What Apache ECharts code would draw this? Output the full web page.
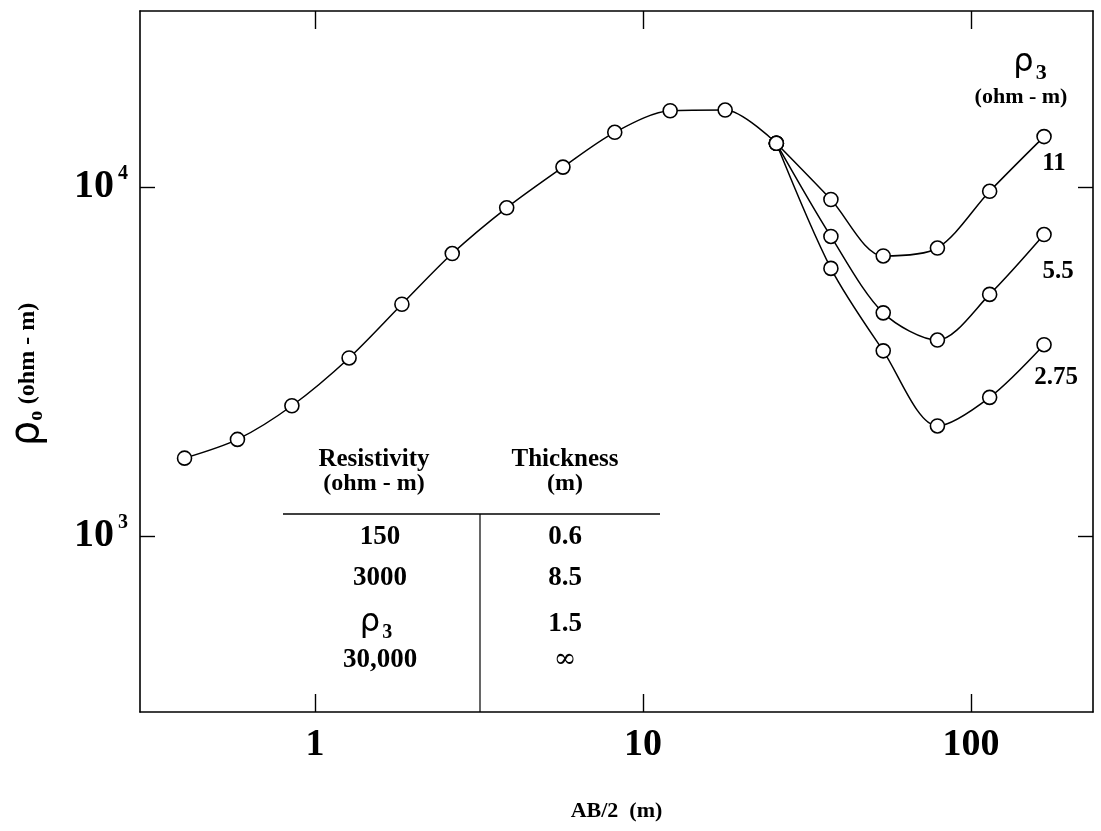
<!DOCTYPE html>
<html>
<head>
<meta charset="utf-8">
<script src="https://cdn.jsdelivr.net/npm/echarts@6/dist/echarts.min.js"></script>
<style>
html,body{margin:0;padding:0;background:#fff;}
#c{width:1101px;height:831px;}
</style>
</head>
<body>
<div id="c"></div>
<script>
// ---- data ----
const abMain   = [0.4, 0.58, 0.85, 1.27, 1.84, 2.62, 3.84, 5.7, 8.2, 12.1, 17.8, 25.5];
const rhoMain  = [1670, 1890, 2360, 3235, 4610, 6440, 8710, 11390, 14330, 16520, 16600, 13330];
const abBranch = [37.4, 54, 79, 114, 167];
const rho11    = [9200, 6340, 6680, 9710, 13930];
const rho55    = [7210, 4355, 3640, 4920, 7300];
const rho275   = [5840, 3390, 2065, 2494, 3530];
const branchNames = ['11', '5.5', '2.75'];
const xTicks = [1, 10, 100];
const yTicks = [1000, 10000];
const tableHead = [['Resistivity', '(ohm - m)'], ['Thickness', '(m)']];
const tableResist = ['150', '3000', 'ρ3', '30,000'];
const tableThick  = ['0.6', '8.5', '1.5', '∞'];

const SERIF = '"Liberation Serif","Times New Roman",serif';
const chart = echarts.init(document.getElementById('c'));

function pairs(xs, ys) { return xs.map((x, i) => [x, ys[i]]); }
const joint = [abMain[abMain.length - 1], rhoMain[rhoMain.length - 1]];

const lineStyle = { color: '#000', width: 1.5 };
const itemStyle = { color: '#fff', borderColor: '#000', borderWidth: 1.6 };

function branch(name, ys, offset) {
  const d = [joint].concat(pairs(abBranch, ys));
  const last = d.length - 1;
  return {
    type: 'line', name: name, smooth: 0.3, symbol: 'circle', symbolSize: 14,
    lineStyle: lineStyle, itemStyle: itemStyle, z: 2,
    data: d.map((p, i) => i === last ? {
      value: p,
      label: { show: true, formatter: name, position: 'bottom', offset: offset,
        fontFamily: SERIF, fontWeight: 'bold', fontSize: 25, color: '#000' }
    } : p)
  };
}

const xCommon = {
  type: 'log', logBase: 10, min: 0.2926, max: 235.5,
  axisLine: { show: true, onZero: false, lineStyle: { color: '#000', width: 1.6 } },
  axisTick: { show: true, inside: true, length: 18, customValues: xTicks, lineStyle: { color: '#000', width: 1.4 } },
  splitLine: { show: false }, minorTick: { show: false }
};
const yCommon = {
  type: 'log', logBase: 10, min: 313, max: 31900,
  axisLine: { show: true, onZero: false, lineStyle: { color: '#000', width: 1.6 } },
  axisTick: { show: true, inside: true, length: 15, customValues: yTicks, lineStyle: { color: '#000', width: 1.4 } },
  splitLine: { show: false }, minorTick: { show: false }
};

// table annotation
const colL = 380, colR = 565;
const rowY = [537, 578, 626, 660];
const tableGraphics = [];
tableHead.forEach((h, ci) => {
  const cx = ci === 0 ? colL - 6 : colR;
  tableGraphics.push({ type: 'text', x: cx, y: 460, style: { text: h[0], fontFamily: SERIF, fontWeight: 'bold', fontSize: 25, fill: '#000', align: 'center', verticalAlign: 'middle' } });
  tableGraphics.push({ type: 'text', x: cx, y: 484, style: { text: h[1], fontFamily: SERIF, fontWeight: 'bold', fontSize: 24, fill: '#000', align: 'center', verticalAlign: 'middle' } });
});
tableResist.forEach((t, i) => {
  if (t === 'ρ3') {
    tableGraphics.push({ type: 'text', x: colL - 4, y: rowY[i], style: { text: '{r|ρ}{s|3}', align: 'center', verticalAlign: 'middle',
      rich: { r: { fontFamily: 'DejaVu Sans', fontSize: 32, fill: '#000', padding: [0, 0, 6, 0] }, s: { fontFamily: SERIF, fontWeight: 'bold', fontSize: 20, fill: '#000', padding: [14, 0, 0, 2] } } } });
  } else {
    tableGraphics.push({ type: 'text', x: colL, y: rowY[i], style: { text: t, fontFamily: SERIF, fontWeight: 'bold', fontSize: 27, fill: '#000', align: 'center', verticalAlign: 'middle' } });
  }
});
tableThick.forEach((t, i) => {
  tableGraphics.push({ type: 'text', x: colR, y: rowY[i] - (i === 2 ? 2 : 0), style: { text: t, fontFamily: t === '∞' ? 'DejaVu Serif' : SERIF, fontWeight: t === '∞' ? 'normal' : 'bold', fontSize: 27, fill: '#000', align: 'center', verticalAlign: 'middle' } });
});
tableGraphics.push({ type: 'line', shape: { x1: 283, y1: 514, x2: 660, y2: 514 }, style: { stroke: '#000', lineWidth: 1.6 } });
tableGraphics.push({ type: 'line', shape: { x1: 480, y1: 514, x2: 480, y2: 712 }, style: { stroke: '#000', lineWidth: 1.2 } });

const option = {
  backgroundColor: '#fff',
  animation: false,
  grid: { left: 140, right: 8, top: 11, bottom: 119, containLabel: false },
  xAxis: [
    Object.assign({}, xCommon, {
      position: 'bottom',
      name: 'AB/2  (m)', nameLocation: 'middle', nameGap: 88,
      nameTextStyle: { fontFamily: SERIF, fontWeight: 'bold', fontSize: 22, color: '#000' },
      axisLabel: { show: true, customValues: xTicks, margin: 14, fontFamily: SERIF, fontWeight: 'bold', fontSize: 38, color: '#000',
        formatter: v => String(Math.round(v)) }
    }),
    Object.assign({}, xCommon, { position: 'top', axisLabel: { show: false } })
  ],
  yAxis: [
    Object.assign({}, yCommon, {
      position: 'left',
      name: '{r|ρ}{s|o}  {u|(ohm - m)}', nameLocation: 'middle', nameRotate: 90, nameGap: 92,
      nameTextStyle: { color: '#000', padding: [0, 26, 0, 0], rich: {
        r: { fontFamily: 'DejaVu Sans', fontSize: 40, color: '#000' },
        s: { fontFamily: SERIF, fontWeight: 'bold', fontSize: 20, color: '#000', padding: [18, 0, 0, 0] },
        u: { fontFamily: SERIF, fontWeight: 'bold', fontSize: 24, color: '#000' } } },
      axisLabel: { show: true, customValues: yTicks, margin: 12, color: '#000',
        formatter: v => '{b|10}{p|' + Math.round(Math.log10(v)) + '}',
        rich: {
          b: { fontFamily: SERIF, fontWeight: 'bold', fontSize: 40, color: '#000' },
          p: { fontFamily: SERIF, fontWeight: 'bold', fontSize: 20, color: '#000', padding: [0, 0, 26, 4] }
        } }
    }),
    Object.assign({}, yCommon, { position: 'right', axisLabel: { show: false } })
  ],
  graphic: [
    { type: 'text', x: 1030, y: 66, style: { text: '{r|ρ}{s|3}', align: 'center', verticalAlign: 'middle',
      rich: { r: { fontFamily: 'DejaVu Sans', fontSize: 32, fill: '#000', padding: [0, 0, 6, 0] }, s: { fontFamily: SERIF, fontWeight: 'bold', fontSize: 22, fill: '#000', padding: [14, 0, 0, 2] } } } },
    { type: 'text', x: 1021, y: 97, style: { text: '(ohm - m)', fontFamily: SERIF, fontWeight: 'bold', fontSize: 22, fill: '#000', align: 'center', verticalAlign: 'middle' } }
  ].concat(tableGraphics),
  series: [
    { type: 'line', name: 'main', smooth: 0.3, symbol: 'circle', symbolSize: 14,
      lineStyle: lineStyle, itemStyle: itemStyle, z: 3, data: pairs(abMain, rhoMain) },
    branch(branchNames[0], rho11, [10, 2]),
    branch(branchNames[1], rho55, [14, 12]),
    branch(branchNames[2], rho275, [12, 8])
  ]
};
chart.setOption(option);
</script>
</body>
</html>
